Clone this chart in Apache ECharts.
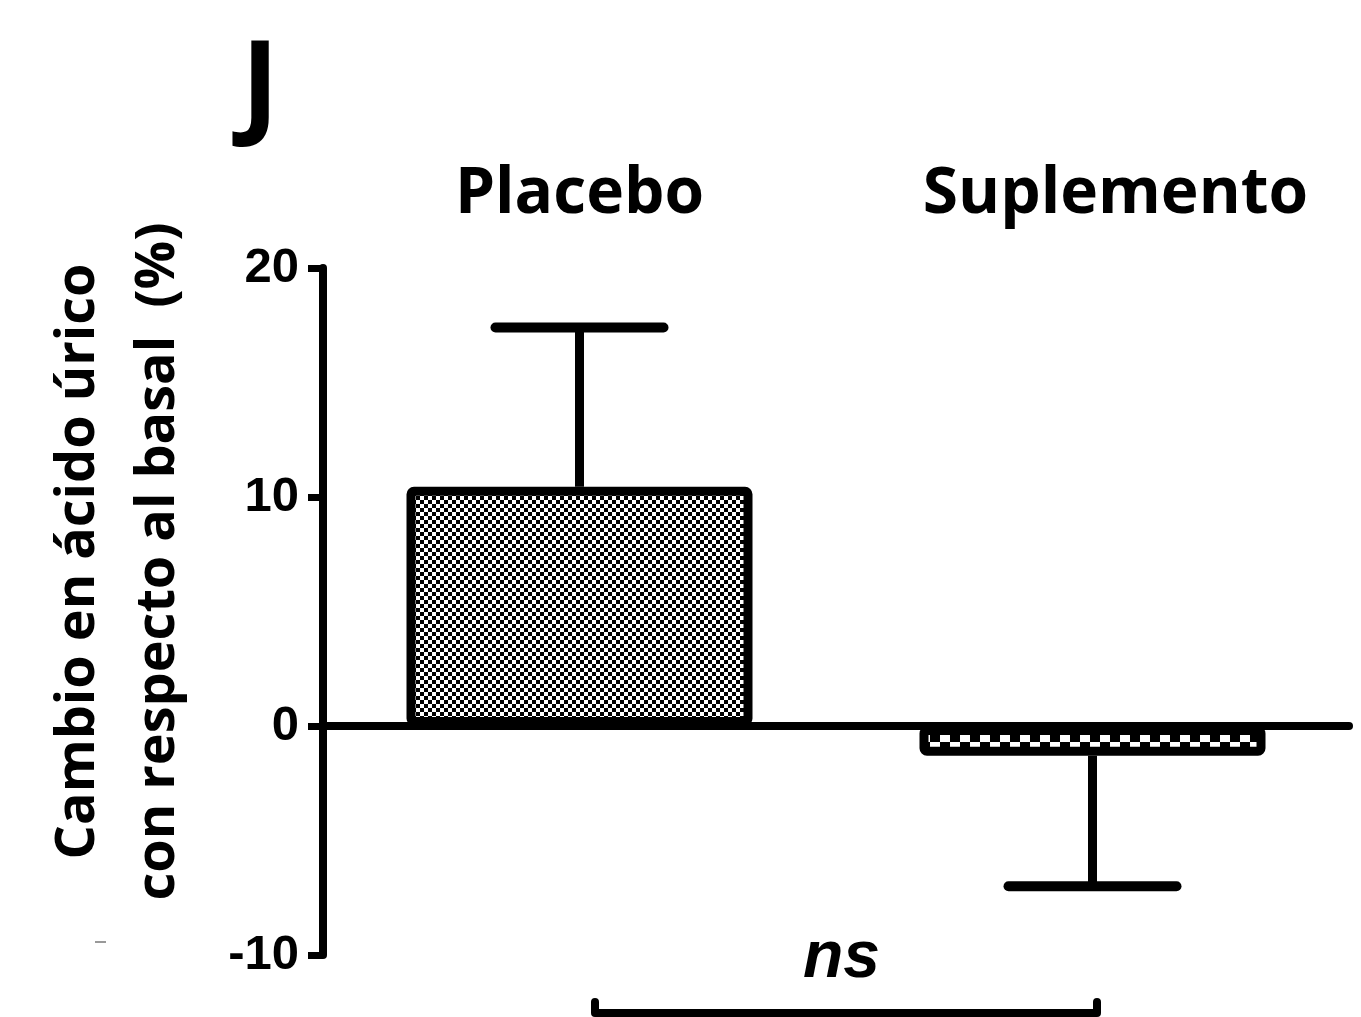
<!DOCTYPE html>
<html>
<head>
<meta charset="utf-8">
<script src="https://cdn.jsdelivr.net/npm/echarts@6/dist/echarts.min.js"></script>
<style>
html,body{margin:0;padding:0;background:#fff;}
#chart{width:1361px;height:1017px;}
</style>
</head>
<body>
<div id="chart"></div>
<script>
// ---- data ----
var categories = ['Placebo', 'Suplemento'];
var meanValues = [10.45, -1.3];
var errorValues = [17.4, -7.0];
var yTicks = { min: -10, max: 20, interval: 10 };
var yTitle = 'Cambio en ácido úrico\ncon respecto al basal  (%)';
var panelLabel = 'J';
var sigLabel = 'ns';

function checker(cw, ch) {
  var c = document.createElement('canvas');
  c.width = cw * 2; c.height = ch * 2;
  var g = c.getContext('2d');
  g.fillStyle = '#fff'; g.fillRect(0, 0, c.width, c.height);
  g.fillStyle = '#000';
  g.fillRect(0, 0, cw, ch);
  g.fillRect(cw, ch, cw, ch);
  return { image: c, repeat: 'repeat' };
}
var patterns = [checker(4, 4), checker(10, 7)];

var chart = echarts.init(document.getElementById('chart'), null, { renderer: 'canvas' });

var option = {
  animation: false,
  backgroundColor: '#fff',
  title: {
    text: panelLabel,
    left: 236,
    top: 28,
    textStyle: { fontFamily: 'Open Sans', fontWeight: 'bold', fontSize: 115, color: '#000' }
  },
  grid: { left: 323, right: 12, top: 268, bottom: 1017 - 955, containLabel: false },
  xAxis: [{
    type: 'category',
    data: categories,
    axisLine: { onZero: true, lineStyle: { color: '#000', width: 8 } },
    axisTick: { show: false },
    axisLabel: { show: false },
    splitLine: { show: false }
  }, {
    type: 'category',
    position: 'top',
    data: categories.map(function (c, i) {
      return i === 1 ? { value: c, textStyle: { padding: [0, 0, 0, 46] } } : c;
    }),
    axisLine: { show: false },
    axisTick: { show: false },
    axisLabel: { margin: 41, fontFamily: 'Open Sans', fontWeight: 'bold', fontSize: 64, color: '#000' },
    splitLine: { show: false }
  }],
  yAxis: {
    type: 'value',
    min: yTicks.min,
    max: yTicks.max,
    interval: yTicks.interval,
    name: yTitle,
    nameLocation: 'middle',
    nameRotate: 90,
    nameGap: 124,
    nameTextStyle: {
      fontFamily: 'Open Sans', fontWeight: 'bold', fontSize: 54, color: '#000',
      lineHeight: 80, padding: [0, 0, 0, 100]
    },
    axisLine: { show: true, lineStyle: { color: '#000', width: 8 } },
    axisTick: { show: true, inside: false, length: 15, lineStyle: { color: '#000', width: 7 } },
    axisLabel: { margin: 24, fontFamily: 'Liberation Sans', fontWeight: 'bold', fontSize: 49, color: '#000' },
    splitLine: { show: false }
  },
  series: [{
    type: 'bar',
    xAxisIndex: 0,
    barWidth: 346,
    data: meanValues.map(function (v, i) {
      return { value: v, itemStyle: { color: patterns[i] } };
    }),
    itemStyle: { borderColor: '#000', borderWidth: 9, borderRadius: 3 },
    z: 2
  }, {
    type: 'custom',
    xAxisIndex: 0,
    data: meanValues.map(function (v, i) { return [i, v, errorValues[i]]; }),
    renderItem: function (params, api) {
      var base = api.coord([api.value(0), api.value(1)]);
      var tip = api.coord([api.value(0), api.value(2)]);
      var half = 84;
      return {
        type: 'group',
        children: [{
          type: 'line',
          shape: { x1: base[0], y1: base[1], x2: tip[0], y2: tip[1] },
          style: { stroke: '#000', lineWidth: 9 }
        }, {
          type: 'line',
          shape: { x1: tip[0] - half, y1: tip[1], x2: tip[0] + half, y2: tip[1] },
          style: { stroke: '#000', lineWidth: 10, lineCap: 'round' }
        }]
      };
    },
    z: 3
  }],
  graphic: [{
    type: 'text',
    left: 803,
    top: 926,
    style: { text: sigLabel, fontFamily: 'Liberation Sans', fontWeight: 'bold', fontStyle: 'italic', fontSize: 66, fill: '#000' }
  }, {
    type: 'polyline',
    shape: { points: [[595, 1002], [595, 1013], [1097, 1013], [1097, 1002]] },
    style: { stroke: '#000', lineWidth: 8, fill: null, lineCap: 'round', lineJoin: 'round' }
  }, {
    type: 'line',
    shape: { x1: 95, y1: 942, x2: 106, y2: 942 },
    style: { stroke: '#999', lineWidth: 2 }
  }]
};
chart.setOption(option);
</script>
</body>
</html>
